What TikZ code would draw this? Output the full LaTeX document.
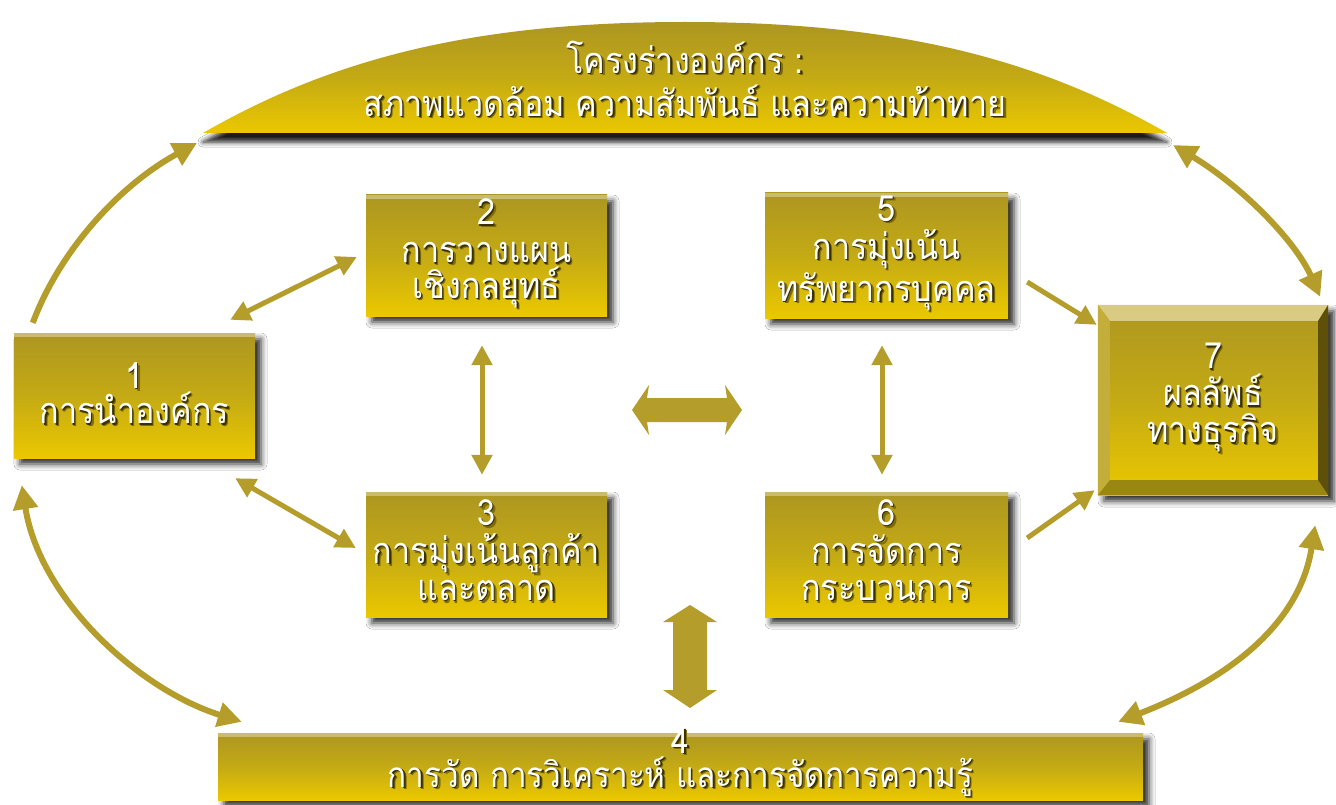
\documentclass[tikz,border=0pt]{standalone}
\usepackage{fontspec}
\newfontfamily\thaifont[Script=Thai,FakeStretch=0.9]{Loma}
\usetikzlibrary{arrows.meta,shadows.blur,calc}

\definecolor{goldtop}{HTML}{AD9621}
\definecolor{goldmid}{HTML}{C4AA14}
\definecolor{goldbot}{HTML}{EBC800}
\definecolor{arrowgold}{HTML}{B49D2A}
\definecolor{shadowhard}{HTML}{3A3000}
\definecolor{shadowsoft}{HTML}{7E6C08}
\definecolor{bevellight}{HTML}{D9CB83}
\definecolor{bevelside}{HTML}{C3AE3C}
\definecolor{beveldark}{HTML}{9A8712}
\definecolor{bevelshade}{HTML}{5E5008}

% one line of white lettering with a soft dark drop shadow behind it
\newcommand\sh[1]{%
  \makebox[0pt][l]{\kern2.6pt\raisebox{-2.6pt}{\color{shadowsoft}#1}}%
  \makebox[0pt][l]{\kern1.4pt\raisebox{-1.4pt}{\color{shadowhard}#1}}#1}

\begin{document}
\begin{tikzpicture}[x=1pt,y=-1pt,
  >={Triangle[length=20pt,width=20pt]},
  goldbox/.style={rectangle, inner sep=0pt, top color=goldtop, bottom color=goldbot, middle color=goldmid,
    blur shadow={shadow xshift=6pt, shadow yshift=-6pt, shadow blur radius=6pt, shadow opacity=85},
    path picture={\fill[white, opacity=0.35] (path picture bounding box.north west) rectangle ([yshift=-4pt]path picture bounding box.north east);}},
  boxtext/.style={text=white, align=center, inner sep=0pt, font=\fontsize{36}{34}\selectfont\thaifont},
  conn/.style={draw=arrowgold, line width=5pt},
  bigconn/.style={draw=arrowgold, line width=6pt, >={Triangle[length=24pt,width=24pt]}},
  fatarrow/.style={fill=arrowgold}]

\useasboundingbox (0,0) rectangle (1336,805);
\fill[white] (0,0) rectangle (1336,805);

% dome of the organisational profile
\coordinate (domeL) at (203,133);
\coordinate (domeR) at (1167,133);
\path[top color=goldtop, bottom color=goldbot, middle color=goldmid,
  blur shadow={shadow xshift=0pt, shadow yshift=-9pt, shadow blur radius=5pt, shadow opacity=90}]
  (domeL) .. controls (330,60) and (470,22) .. (685,22) .. controls (900,22) and (1040,60) .. (domeR) -- cycle;
\node[boxtext, font=\fontsize{36}{43}\selectfont\thaifont] (t0) at (685,80)
  {\sh{โครงร่างองค์กร :}\\\sh{สภาพแวดล้อม ความสัมพันธ์ และความท้าทาย}};

% category boxes
\node[goldbox, minimum width=241pt, minimum height=125pt] (b1) at (134.5,395.5) {};
\node[goldbox, minimum width=241pt, minimum height=121pt] (b2) at (486.5,255.5) {};
\node[goldbox, minimum width=241pt, minimum height=125pt] (b3) at (486.5,554.5) {};
\node[goldbox, minimum width=925pt, minimum height=67pt] (b4) at (680.5,766.5) {};
\node[goldbox, minimum width=243pt, minimum height=125pt] (b5) at (886.5,255.5) {};
\node[goldbox, minimum width=243pt, minimum height=125pt] (b6) at (886.5,554.5) {};
\node[goldbox, minimum width=230pt, minimum height=190pt] (b7) at (1213,400) {};

% bevelled rim of the results box
\fill[bevellight] (b7.north west) -- (b7.north east) -- ($(b7.north east)+(-10,16)$) -- ($(b7.north west)+(12,16)$) -- cycle;
\fill[bevelside] (b7.north west) -- ($(b7.north west)+(12,16)$) -- ($(b7.south west)+(12,-15)$) -- (b7.south west) -- cycle;
\fill[beveldark] (b7.south west) -- ($(b7.south west)+(12,-15)$) -- ($(b7.south east)+(-10,-15)$) -- (b7.south east) -- cycle;
\fill[bevelshade] (b7.north east) -- (b7.south east) -- ($(b7.south east)+(-10,-15)$) -- ($(b7.north east)+(-10,16)$) -- cycle;

% labels
\node[boxtext] (t1) at ($(b1)+(0,-1)$) {\sh{1}\\\sh{การนำองค์กร}};
\node[boxtext] (t2) at ($(b2)+(0,-1)$) {\sh{2}\\[4pt]\sh{การวางแผน}\\\sh{เชิงกลยุทธ์}};
\node[boxtext] (t3) at ($(b3)+(0,-3)$) {\sh{3}\\[4pt]\sh{การมุ่งเน้นลูกค้า}\\[3pt]\sh{และตลาด}};
\node[boxtext, font=\fontsize{35}{28}\selectfont\thaifont] (t4) at ($(b4)+(0,-3)$)
  {\sh{4}\\\sh{การวัด การวิเคราะห์ และการจัดการความรู้}};
\node[boxtext] (t5) at ($(b5)+(0,-1)$) {\sh{5}\\[4pt]\sh{การมุ่งเน้น}\\\sh{ทรัพยากรบุคคล}};
\node[boxtext] (t6) at ($(b6)+(0,-3)$) {\sh{6}\\[4pt]\sh{การจัดการ}\\[3pt]\sh{กระบวนการ}};
\node[boxtext, font=\fontsize{36}{37}\selectfont\thaifont] (t7) at ($(b7)+(0,-1)$) {\sh{7}\\\sh{ผลลัพธ์}\\\sh{ทางธุรกิจ}};

% connectors
\draw[bigconn,->] ($(b1.north west)+(19,-10)$) .. controls (60,250) and (120,185) .. ($(domeL)+(-6,10)$);
\draw[bigconn,<->] ($(domeR)+(6,12)$) .. controls (1240,185) and (1295,240) .. ($(b7.north east)+(-8,-8)$);
\draw[bigconn,<->] ($(b1.south west)+(8,27)$) .. controls (40,600) and (140,690) .. ($(b4.north west)+(24,-11)$);
\draw[bigconn,<->] ($(b7.south east)+(-13,30)$) .. controls (1297,640) and (1200,690) .. ($(b4.north east)+(-25,-11)$);
\draw[conn,<->] ($(b1.north east)+(-25,-13)$) -- ($(b2.west)+(-9,1.5)$);
\draw[conn,<->] ($(b1.south east)+(-20,20)$) -- ($(b3.west)+(-10,-6.5)$);
\draw[conn,<->] ($(b2.south)+(-4.5,29)$) -- ($(b3.north)+(-4.5,-17)$);
\draw[conn,<->] ($(b5.south)+(-4.5,27)$) -- ($(b6.north)+(-4.5,-17)$);
\draw[conn,->] ($(b5.east)+(19,26.5)$) -- ($(b7.north west)+(-1,20)$);
\draw[conn,->] ($(b6.east)+(19,-16.5)$) -- ($(b7.south west)+(-3,-5)$);

% broad two-way arrows between the two halves and to the measurement bar
\fill[fatarrow] (632,410) -- (649,385) -- (647,398) -- (727,398) -- (725,385) -- (742,410)
  -- (725,435) -- (727,422) -- (647,422) -- (649,435) -- cycle;
\fill[fatarrow] (690,605) -- (717,622) -- (707,622) -- (707,690) -- (717,690) -- (690,708)
  -- (663,690) -- (673,690) -- (673,622) -- (663,622) -- cycle;
\end{tikzpicture}
\end{document}
